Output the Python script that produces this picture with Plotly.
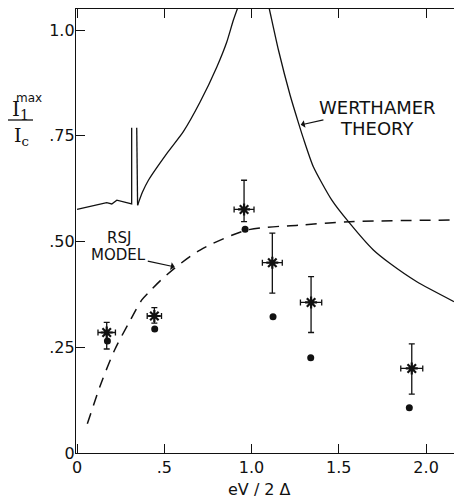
import plotly.graph_objects as go

# ---------------- data ----------------
# Werthamer theory: low-voltage part with the narrow spike
wt_low_x = [0.0, 0.170, 0.199, 0.228, 0.313, 0.313, None, 0.342, 0.347]
wt_low_y = [0.576, 0.592, 0.589, 0.598, 0.589, 0.769, None, 0.769, 0.586]
# Werthamer theory: rising branch towards the singularity
wt_left_x = [0.347, 0.375, 0.409, 0.514, 0.609, 0.705, 0.801, 0.858, 0.896, 0.936]
wt_left_y = [0.586, 0.617, 0.645, 0.708, 0.760, 0.830, 0.913, 0.972, 1.024, 1.07]
# Werthamer theory: falling branch after the singularity
wt_right_x = [1.091, 1.102, 1.154, 1.221, 1.270, 1.297, 1.354, 1.460, 1.555, 1.698, 1.794, 1.947, 2.16]
wt_right_y = [1.07, 1.05, 0.953, 0.846, 0.779, 0.744, 0.677, 0.598, 0.547, 0.480, 0.448, 0.405, 0.358]

# RSJ model (dashed)
rsj_x = [0.059, 0.138, 0.218, 0.300, 0.371, 0.418, 0.476, 0.562, 0.705, 0.972, 1.278, 1.564, 2.16]
rsj_y = [0.069, 0.165, 0.246, 0.310, 0.362, 0.383, 0.407, 0.438, 0.480, 0.527, 0.539, 0.547, 0.551]

# measured points (stars) with error bars
star_x = [0.170, 0.443, 0.957, 1.119, 1.341, 1.918]
star_y = [0.285, 0.324, 0.576, 0.450, 0.356, 0.200]
star_y_plus = [0.024, 0.020, 0.069, 0.070, 0.061, 0.058]
star_y_minus = [0.039, 0.017, 0.029, 0.072, 0.071, 0.061]
star_x_err = [0.050, 0.041, 0.057, 0.057, 0.061, 0.063]

# filled dots
dot_x = [0.174, 0.445, 0.963, 1.123, 1.339, 1.904]
dot_y = [0.265, 0.293, 0.529, 0.322, 0.225, 0.107]

x_tickvals = [0, 0.5, 1.0, 1.5, 2.0]
x_ticktext = ["0", ".5", "1.0", "1.5", "2.0"]
y_tickvals = [0, 0.25, 0.5, 0.75, 1.0]
y_ticktext = ["0", ".25", ".50", ".75", "1.0"]

# ---------------- figure ----------------
W, H = 454, 498
ML, MR, MT, MB = 76, 0, 9, 45
PW, PH = W - ML - MR, H - MT - MB


def px(xp):
    return (xp - ML) / PW


def py(yp):
    return (MT + PH - yp) / PH


FONT = "DejaVu Sans"
BLACK = "#111111"

fig = go.Figure()

fig.add_trace(go.Scatter(x=wt_low_x, y=wt_low_y, mode="lines", line=dict(color=BLACK, width=1.3),
                         connectgaps=False, hoverinfo="skip"))
fig.add_trace(go.Scatter(x=wt_left_x, y=wt_left_y, mode="lines",
                         line=dict(color=BLACK, width=1.3, shape="spline", smoothing=0.6),
                         hoverinfo="skip"))
fig.add_trace(go.Scatter(x=wt_right_x, y=wt_right_y, mode="lines",
                         line=dict(color=BLACK, width=1.3, shape="spline", smoothing=0.6),
                         hoverinfo="skip"))
fig.add_trace(go.Scatter(x=rsj_x, y=rsj_y, mode="lines",
                         line=dict(color=BLACK, width=1.5, dash="11px,8px", shape="spline", smoothing=0.8),
                         hoverinfo="skip"))

fig.add_trace(go.Scatter(
    x=star_x, y=star_y, mode="markers",
    marker=dict(symbol="asterisk-open", size=10, color=BLACK, line=dict(color=BLACK, width=2.2)),
    error_y=dict(type="data", symmetric=False, array=star_y_plus, arrayminus=star_y_minus,
                 color=BLACK, thickness=1.3, width=3),
    error_x=dict(type="data", array=star_x_err, color=BLACK, thickness=1.3, width=3),
))
fig.add_trace(go.Scatter(x=dot_x, y=dot_y, mode="markers",
                         marker=dict(symbol="circle", size=7, color=BLACK)))


def label(xp, yp, text, size, family=FONT, xanchor="center"):
    return dict(x=px(xp), y=py(yp), xref="paper", yref="paper", text=text,
                xanchor=xanchor, yanchor="middle", showarrow=False,
                font=dict(family=family, size=size, color=BLACK))


annotations = [
    # curve labels (arrows attached to the labels)
    dict(x=1.282, y=0.776, xref="x", yref="y", text="WERTHAMER",
         showarrow=True, ax=77, ay=-17, arrowhead=1, arrowsize=1.2, arrowwidth=1.1,
         arrowcolor=BLACK, font=dict(family=FONT, size=18, color=BLACK)),
    label(377, 128.3, "THEORY", 18),
    label(118.5, 238, "RSJ", 15),
    dict(x=0.560, y=0.440, xref="x", yref="y", text="MODEL",
         showarrow=True, ax=-56, ay=-12, arrowhead=1, arrowsize=1.2, arrowwidth=1.1,
         arrowcolor=BLACK, font=dict(family=FONT, size=15, color=BLACK)),
    # axis titles
    label(259, 490, "eV / 2 Δ", 16),
    label(10, 110, "I<sub>1</sub>", 20, family="DejaVu Serif", xanchor="left"),
    label(14, 98, "max", 12, xanchor="left"),
    label(12, 136, "I<sub>c</sub>", 19, family="DejaVu Serif", xanchor="left"),
]

shapes = [
    dict(type="line", xref="paper", yref="paper", x0=px(8), x1=px(33), y0=py(120), y1=py(120),
         line=dict(color=BLACK, width=1.3)),
]

axis_common = dict(
    showgrid=False, zeroline=False, showline=True, linecolor=BLACK, linewidth=1.3,
    ticks="inside", ticklen=9, tickwidth=1.1, tickcolor=BLACK,
    tickfont=dict(family=FONT, size=16, color=BLACK),
)

fig.update_layout(
    width=W, height=H,
    margin=dict(l=ML, r=MR, t=MT, b=MB, pad=0),
    paper_bgcolor="white", plot_bgcolor="white",
    showlegend=False,
    xaxis=dict(range=[-0.006, 2.16], tickmode="array", tickvals=x_tickvals, ticktext=x_ticktext,
               mirror="ticks", **axis_common),
    yaxis=dict(range=[0, 1.05], tickmode="array", tickvals=y_tickvals, ticktext=y_ticktext,
               mirror=False, ticklabelstandoff=-3, **axis_common),
    annotations=annotations,
    shapes=shapes,
)

fig.write_html("out.html", config={"displayModeBar": False},
               post_script="document.body.style.margin='0px';")
